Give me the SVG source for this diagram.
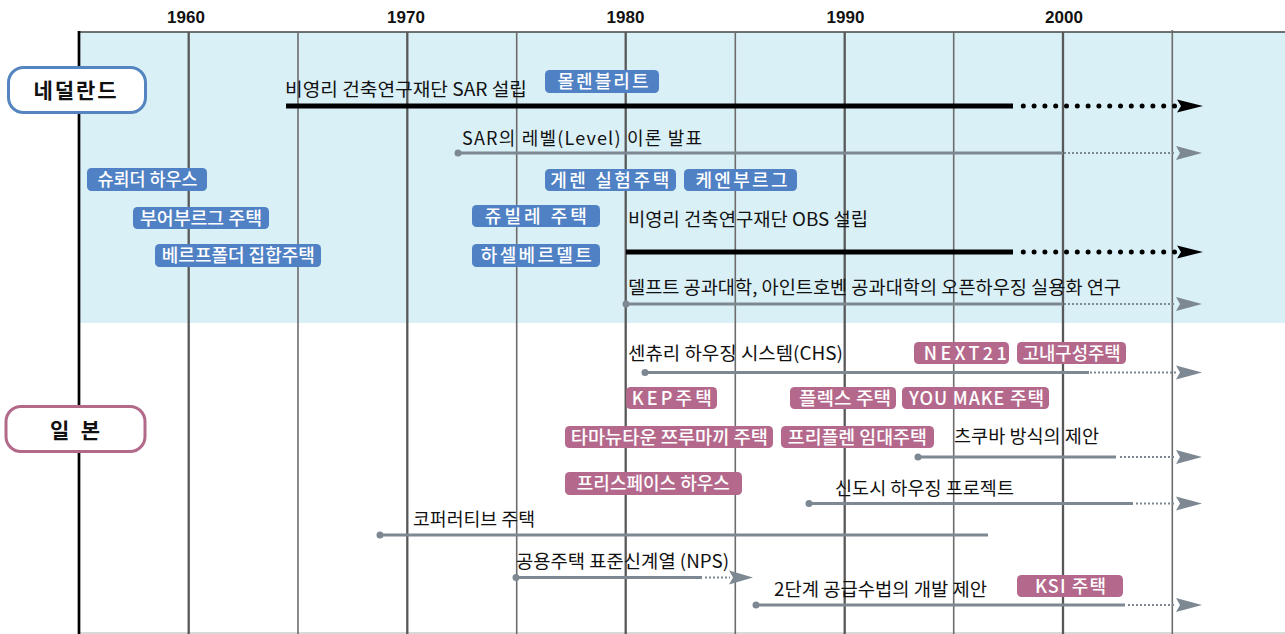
<svg xmlns="http://www.w3.org/2000/svg" width="1285" height="634" viewBox="0 0 1285 634">
<style>
.yr{font-family:"Liberation Sans",Arial,sans-serif;font-weight:bold;font-size:17px;fill:#111;text-anchor:middle}
.lbl{font-family:"Noto Sans CJK KR","Noto Sans",sans-serif;font-size:18px;fill:#111}
.tag text{font-family:"Noto Sans CJK KR","Noto Sans",sans-serif;font-size:18px;fill:#fff;text-anchor:middle;font-weight:500}
.nl rect{fill:#4F81C4}
.jp rect{fill:#B4698C}
.cty text{font-family:"Noto Sans CJK KR","Noto Sans",sans-serif;font-size:21px;font-weight:bold;fill:#111;text-anchor:middle}
.g{stroke:#7D8892;stroke-width:2.8;fill:none}
.gd{stroke:#7D8892;stroke-width:2;stroke-dasharray:2 2;fill:none}
.b{stroke:#000;stroke-width:5;fill:none}
.bd{stroke:#000;stroke-width:5;stroke-dasharray:0 10.8;stroke-linecap:round;fill:none}
.dot{fill:#7D8892}
.ah{fill:#7D8892}
.ab{fill:#000}
.major{stroke:#585858;stroke-width:2.3}
.minor{stroke:#6c6c6c;stroke-width:1.6}
</style>
<g id="background">
<rect x="0" y="0" width="1285" height="634" fill="#fff"/>
<rect x="79" y="32" width="1206" height="291" fill="#DAF0F7"/>
<line x1="79" y1="633" x2="1285" y2="633" stroke="#ccc" stroke-width="1.5"/>
</g>
<g id="grid">
<line x1="79" y1="32" x2="1285" y2="32" stroke="#444" stroke-width="1.5"/>
<line class="minor" x1="298" y1="32" x2="298" y2="634"/>
<line class="minor" x1="516.7" y1="32" x2="516.7" y2="634"/>
<line class="minor" x1="735.3" y1="32" x2="735.3" y2="634"/>
<line class="minor" x1="953.7" y1="32" x2="953.7" y2="634"/>
<line class="minor" x1="1172.3" y1="30" x2="1172.3" y2="634"/>
<line class="major" x1="188.7" y1="32" x2="188.7" y2="634"/>
<line class="major" x1="407.3" y1="32" x2="407.3" y2="634"/>
<line class="major" x1="625.7" y1="32" x2="625.7" y2="634"/>
<line class="major" x1="844.7" y1="32" x2="844.7" y2="634"/>
<line class="major" x1="1063" y1="32" x2="1063" y2="634"/>
<line x1="79" y1="31" x2="79" y2="634" stroke="#000" stroke-width="2.7"/>
<text class="yr" x="186" y="23">1960</text>
<text class="yr" x="406" y="23">1970</text>
<text class="yr" x="625.5" y="23">1980</text>
<text class="yr" x="845.5" y="23">1990</text>
<text class="yr" x="1064" y="23">2000</text>
</g>
<g id="connectors">
<path class="b" d="M286,106 H1013"/>
<path class="bd" d="M1023.3,106 H1174.5"/>
<polygon class="ab" points="1177,99.5 1203,106 1177,112.5 1181,106"/>
<path class="b" d="M626,252 H1013"/>
<path class="bd" d="M1023.3,252 H1174.5"/>
<polygon class="ab" points="1177,245.5 1203,252 1177,258.5 1181,252"/>
<circle class="dot" cx="458" cy="153" r="3.5"/>
<path class="g" d="M458,153 H1063"/>
<path class="gd" d="M1064,153 H1176"/>
<polygon class="ah" points="1176,146 1202,153 1176,160 1180,153"/>
<circle class="dot" cx="626" cy="304" r="3.5"/>
<path class="g" d="M626,304 H1063"/>
<path class="gd" d="M1064,304 H1176"/>
<polygon class="ah" points="1176,297 1202,304 1176,311 1180,304"/>
<circle class="dot" cx="645" cy="372.5" r="3.5"/>
<path class="g" d="M645,372.5 H1089"/>
<path class="gd" d="M1090,372.5 H1176"/>
<polygon class="ah" points="1176,365.5 1202,372.5 1176,379.5 1180,372.5"/>
<circle class="dot" cx="918" cy="457" r="3.5"/>
<path class="g" d="M918,457 H1116"/>
<path class="gd" d="M1120,457 H1176"/>
<polygon class="ah" points="1176,450 1202,457 1176,464 1180,457"/>
<circle class="dot" cx="809" cy="503.5" r="3.5"/>
<path class="g" d="M809,503.5 H1133"/>
<path class="gd" d="M1136,503.5 H1176"/>
<polygon class="ah" points="1176,496.5 1202,503.5 1176,510.5 1180,503.5"/>
<circle class="dot" cx="380" cy="535" r="3.5"/>
<path class="g" d="M380,535 H988"/>
<circle class="dot" cx="516" cy="577.5" r="3.5"/>
<path class="g" d="M516,577.5 H702"/>
<path class="gd" d="M705,577.5 H730"/>
<polygon class="ah" points="729,570.5 753,577.5 729,584.5 733,577.5"/>
<circle class="dot" cx="756" cy="605" r="3.5"/>
<path class="g" d="M756,605 H1125"/>
<path class="gd" d="M1128,605 H1176"/>
<polygon class="ah" points="1176,598 1202,605 1176,612 1180,605"/>
</g>
<g id="labels">
<text class="lbl" x="285" y="95.5" textLength="242" lengthAdjust="spacingAndGlyphs">비영리 건축연구재단 SAR 설립</text>
<text class="lbl" x="462" y="145" textLength="240" lengthAdjust="spacing">SAR의 레벨(Level) 이론 발표</text>
<text class="lbl" x="628" y="225.5" textLength="240" lengthAdjust="spacingAndGlyphs">비영리 건축연구재단 OBS 설립</text>
<text class="lbl" x="628" y="294" textLength="493" lengthAdjust="spacingAndGlyphs">델프트 공과대학, 아인트호벤 공과대학의 오픈하우징 실용화 연구</text>
<text class="lbl" x="628" y="360" textLength="215" lengthAdjust="spacingAndGlyphs">센츄리 하우징 시스템(CHS)</text>
<text class="lbl" x="954" y="442.5" textLength="145" lengthAdjust="spacingAndGlyphs">츠쿠바 방식의 제안</text>
<text class="lbl" x="835" y="495" textLength="179" lengthAdjust="spacingAndGlyphs">신도시 하우징 프로젝트</text>
<text class="lbl" x="413" y="526" textLength="122" lengthAdjust="spacingAndGlyphs">코퍼러티브 주택</text>
<text class="lbl" x="516" y="567.5" textLength="213" lengthAdjust="spacingAndGlyphs">공용주택 표준신계열 (NPS)</text>
<text class="lbl" x="774" y="595.5" textLength="213" lengthAdjust="spacingAndGlyphs">2단계 공급수법의 개발 제안</text>
</g>
<g id="country-nl" class="cty">
<rect x="8.5" y="67.5" width="137" height="45" rx="15" fill="#fff" stroke="#5485C0" stroke-width="3"/>
<text x="75" y="98" textLength="83" lengthAdjust="spacing">네덜란드</text>
</g>
<g id="country-jp" class="cty">
<rect x="6" y="406.5" width="139" height="45" rx="15" fill="#fff" stroke="#B2698A" stroke-width="3"/>
<text x="75" y="438" textLength="50" lengthAdjust="spacing">일 본</text>
</g>
<g id="tag-mollenvliet" class="tag nl"><rect x="545" y="70" width="114" height="23" rx="4.5"/><text x="603" y="88" textLength="91" lengthAdjust="spacing">몰렌블리트</text></g>
<g id="tag-schroder" class="tag nl"><rect x="87" y="168" width="120" height="23" rx="4.5"/><text x="147.5" y="186" textLength="100" lengthAdjust="spacingAndGlyphs">슈뢰더 하우스</text></g>
<g id="tag-bouwburg" class="tag nl"><rect x="133" y="207" width="136" height="22" rx="4.5"/><text x="201" y="225" textLength="122" lengthAdjust="spacingAndGlyphs">부어부르그 주택</text></g>
<g id="tag-werfpolder" class="tag nl"><rect x="155" y="244" width="166" height="23" rx="4.5"/><text x="238.3" y="262" textLength="153" lengthAdjust="spacingAndGlyphs">베르프폴더 집합주택</text></g>
<g id="tag-geren" class="tag nl"><rect x="545" y="169" width="131" height="22" rx="4.5"/><text x="609.7" y="187" textLength="119" lengthAdjust="spacing">게렌 실험주택</text></g>
<g id="tag-keyenburg" class="tag nl"><rect x="684" y="169" width="113" height="22" rx="4.5"/><text x="741.5" y="187" textLength="92" lengthAdjust="spacing">케엔부르그</text></g>
<g id="tag-jubilee" class="tag nl"><rect x="472" y="205" width="128" height="22" rx="4.5"/><text x="535.8" y="223" textLength="102" lengthAdjust="spacing">쥬빌레 주택</text></g>
<g id="tag-hasselderveld" class="tag nl"><rect x="472" y="244" width="128" height="23" rx="4.5"/><text x="536.3" y="262" textLength="111" lengthAdjust="spacing">하셀베르델트</text></g>
<g id="tag-next21" class="tag jp"><rect x="914" y="342" width="95" height="22" rx="4.5"/><text x="965.3" y="360" textLength="83" lengthAdjust="spacing">NEXT21</text></g>
<g id="tag-durable" class="tag jp"><rect x="1017" y="342" width="109" height="22" rx="4.5"/><text x="1071.7" y="360" textLength="98" lengthAdjust="spacingAndGlyphs">고내구성주택</text></g>
<g id="tag-kep" class="tag jp"><rect x="626" y="387" width="91" height="22" rx="4.5"/><text x="671.7" y="405" textLength="80" lengthAdjust="spacing">KEP주택</text></g>
<g id="tag-flex" class="tag jp"><rect x="790" y="387" width="106" height="22" rx="4.5"/><text x="845" y="405" textLength="92" lengthAdjust="spacingAndGlyphs">플렉스 주택</text></g>
<g id="tag-youmake" class="tag jp"><rect x="902" y="387" width="147" height="22" rx="4.5"/><text x="976.5" y="405" textLength="135" lengthAdjust="spacing">YOU MAKE 주택</text></g>
<g id="tag-tama" class="tag jp"><rect x="565" y="426" width="208" height="22" rx="4.5"/><text x="669.3" y="444" textLength="197" lengthAdjust="spacingAndGlyphs">타마뉴타운 쯔루마끼 주택</text></g>
<g id="tag-freeplan" class="tag jp"><rect x="781" y="426" width="153" height="22" rx="4.5"/><text x="857.3" y="444" textLength="139" lengthAdjust="spacingAndGlyphs">프리플렌 임대주택</text></g>
<g id="tag-freespace" class="tag jp"><rect x="565" y="472" width="177" height="23" rx="4.5"/><text x="653.3" y="490" textLength="153" lengthAdjust="spacing">프리스페이스 하우스</text></g>
<g id="tag-ksi" class="tag jp"><rect x="1017" y="575" width="106" height="22" rx="4.5"/><text x="1070.5" y="593" textLength="71" lengthAdjust="spacing">KSI 주택</text></g>
</svg>
